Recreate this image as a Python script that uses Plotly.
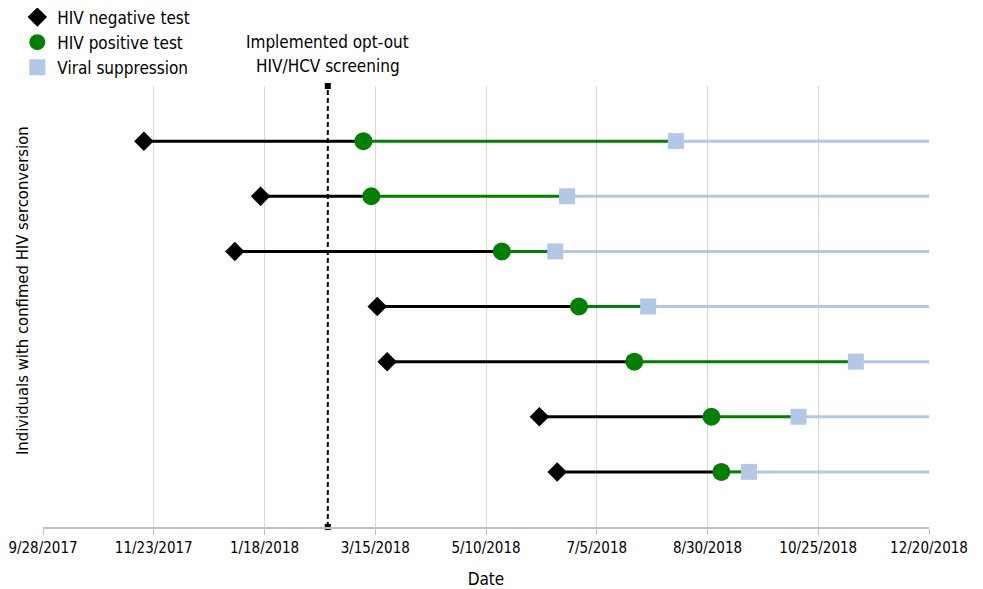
import plotly.graph_objects as go

# Data
rows = [7, 6, 5, 4, 3, 2, 1]
neg_dates = ["2017-11-18", "2018-01-16", "2018-01-03", "2018-03-16", "2018-03-21", "2018-06-06", "2018-06-15"]
pos_dates = ["2018-03-09", "2018-03-13", "2018-05-18", "2018-06-26", "2018-07-24", "2018-09-01", "2018-09-06"]
supp_dates = ["2018-08-14", "2018-06-20", "2018-06-14", "2018-07-31", "2018-11-13", "2018-10-15", "2018-09-20"]
end_date = "2018-12-20"
start_date = "2017-09-28"
optout_date = "2018-02-19"
tick_dates = ["2017-09-28", "2017-11-23", "2018-01-18", "2018-03-15", "2018-05-10",
              "2018-07-05", "2018-08-30", "2018-10-25", "2018-12-20"]
tick_labels = ["9/28/2017", "11/23/2017", "1/18/2018", "3/15/2018", "5/10/2018",
               "7/5/2018", "8/30/2018", "10/25/2018", "12/20/2018"]

BLACK = "#000000"
GREEN = "#008000"
LBLUE = "#B4C7E7"
FONT = "DejaVu Sans Condensed, Liberation Sans Narrow, Arial Narrow, sans-serif"

fig = go.Figure()

# Segments
for r, n, p, s in zip(rows, neg_dates, pos_dates, supp_dates):
    fig.add_trace(go.Scatter(x=[s, end_date], y=[r, r], mode="lines",
                             line=dict(color=LBLUE, width=3), showlegend=False, hoverinfo="skip"))
    fig.add_trace(go.Scatter(x=[p, s], y=[r, r], mode="lines",
                             line=dict(color=GREEN, width=3), showlegend=False, hoverinfo="skip"))
    fig.add_trace(go.Scatter(x=[n, p], y=[r, r], mode="lines",
                             line=dict(color=BLACK, width=3), showlegend=False, hoverinfo="skip"))

# Opt-out line
fig.add_trace(go.Scatter(x=[optout_date, optout_date], y=[0, 8], mode="lines+markers",
                         line=dict(color=BLACK, width=2, dash="5px,3px"),
                         marker=dict(symbol="square", size=6, color=BLACK),
                         cliponaxis=False, showlegend=False, hoverinfo="skip"))

# Markers
fig.add_trace(go.Scatter(x=neg_dates, y=rows, mode="markers", name="HIV negative test",
                         marker=dict(symbol="diamond", size=15, color=BLACK)))
fig.add_trace(go.Scatter(x=pos_dates, y=rows, mode="markers", name="HIV positive test",
                         marker=dict(symbol="circle", size=18, color=GREEN)))
fig.add_trace(go.Scatter(x=supp_dates, y=rows, mode="markers", name="Viral suppression",
                         marker=dict(symbol="square", size=16, color=LBLUE)))

fig.add_annotation(x=optout_date, y=1, xref="x", yref="paper", yanchor="middle",
                   yshift=44, text="Implemented opt-out",
                   showarrow=False, font=dict(size=17, color="#000000", family=FONT))
fig.add_annotation(x=optout_date, y=1, xref="x", yref="paper", yanchor="middle",
                   yshift=20, text="HIV/HCV screening",
                   showarrow=False, font=dict(size=17, color="#000000", family=FONT))

fig.add_annotation(x=-0.0237, y=0.535, xref="paper", yref="paper",
                   xanchor="center", yanchor="middle", textangle=-90,
                   text="Individuals with confimed HIV serconversion",
                   showarrow=False, font=dict(size=16.5, color="#000000", family=FONT))

fig.update_layout(
    width=975, height=581,
    margin=dict(l=35, r=54, t=78, b=62, autoexpand=False),
    paper_bgcolor="white", plot_bgcolor="white",
    font=dict(family=FONT, size=16, color="#000000"),
    legend=dict(x=-0.029, y=1.196, xanchor="left", yanchor="top",
                font=dict(size=17), tracegroupgap=0, itemsizing="trace",
                bgcolor="rgba(0,0,0,0)"),
    xaxis=dict(type="date", range=[start_date, end_date],
               tickvals=tick_dates, ticktext=tick_labels,
               showgrid=True, gridcolor="#D9D9D9", gridwidth=1,
               showline=True, linecolor="#BFBFBF", linewidth=1.5,
               ticks="outside", ticklen=6, tickcolor="#BFBFBF",
               tickfont=dict(size=15), zeroline=False, automargin=False,
               title=dict(text="Date", font=dict(size=17), standoff=17)),
    yaxis=dict(range=[0, 8], showticklabels=False, showgrid=False, zeroline=False,
               showline=False, ticks="", automargin=False),
)

fig.write_html("out.html")
